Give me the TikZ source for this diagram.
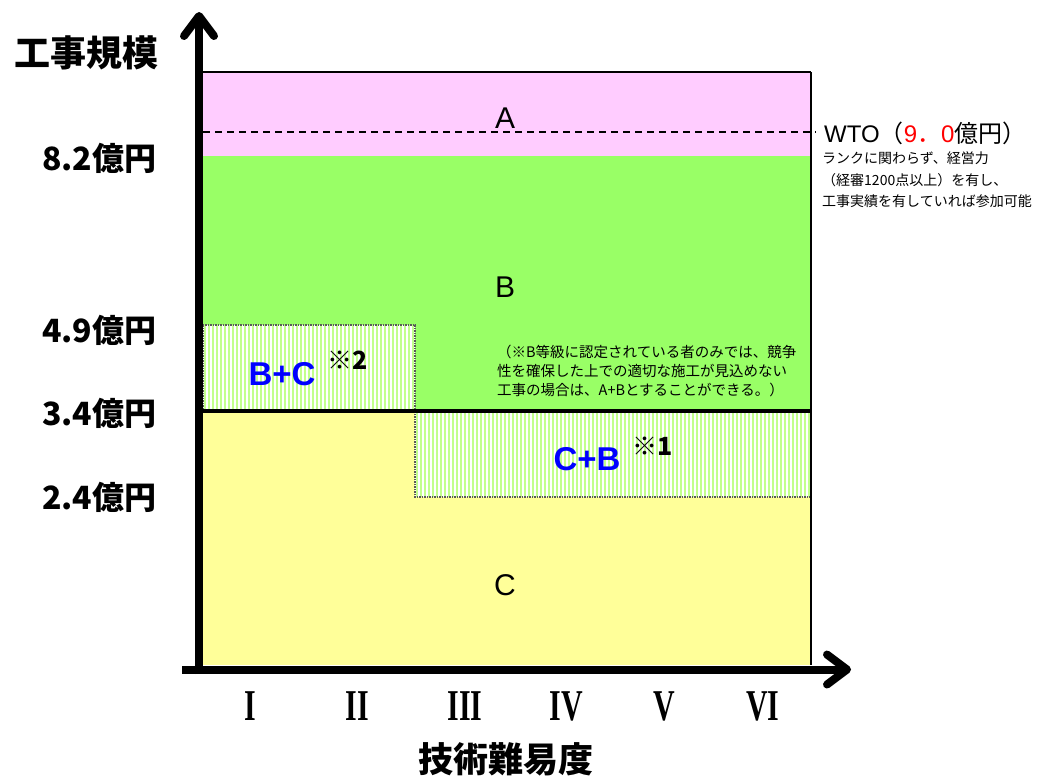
\documentclass[tikz,border=0pt]{standalone}
\usepackage{fontspec}
\setmainfont{Noto Sans CJK JP}
\newfontfamily\arialfont{Liberation Sans}
\newfontfamily\timesfont{Liberation Serif}
\usetikzlibrary{arrows.meta}
\definecolor{pinkA}{HTML}{FFCCFF}
\definecolor{greenB}{HTML}{99FF66}
\definecolor{yellowC}{HTML}{FFFF99}
\definecolor{stripe}{HTML}{C2FF8C}
\tikzset{
  axis/.style={line width=8pt, -{Straight Barb[length=20pt,width=30pt,line cap=round,line join=round]}},
  hatchedge/.style={draw=gray!70!black, densely dotted, line width=1.5pt},
  ylabel/.style={anchor=east, font=\bfseries\fontsize{32}{36}\selectfont},
  zone/.style={font=\arialfont\fontsize{30}{32}\selectfont},
  mix/.style={text=blue, font=\arialfont\bfseries\fontsize{33}{35}\selectfont},
  kome/.style={font=\bfseries\fontsize{25}{27}\selectfont},
  numeral/.style={font=\timesfont\bfseries\fontsize{44}{46}\selectfont},
  smalltext/.style={anchor=base west, inner sep=0pt, font=\fontsize{14}{16}\selectfont},
  notetext/.style={anchor=base west, inner sep=0pt, font=\fontsize{14.5}{16}\selectfont},
}
\newcommand\rankno[1]{\scalebox{0.68}[1]{#1}}
\begin{document}
\begin{tikzpicture}[x=1pt,y=-1pt]
\useasboundingbox (0,0) rectangle (1048,779);
% zones
\fill[pinkA] (203,72) rectangle (811,156);
\fill[greenB] (203,156) rectangle (811,411);
\fill[yellowC] (203,411) rectangle (811,665);
% mixed zones, striped
\fill[white] (203,325) rectangle (415,411);
\fill[white] (415,411) rectangle (811,497);
\begin{scope}
  \clip (203,325) rectangle (415,411);
  \foreach \sx in {204,208,...,416}
    \fill[stripe] (\sx,325) rectangle ++(2,86);
\end{scope}
\begin{scope}
  \clip (415,411) rectangle (811,497);
  \foreach \sx in {416,420,...,812}
    \fill[stripe] (\sx,411) rectangle ++(2,86);
\end{scope}
\draw[hatchedge] (203,325) rectangle (415,411);
\draw[hatchedge] (415,411) rectangle (811,497);
% borders
\draw[dash pattern=on 7pt off 5pt, line width=1.5pt] (203,132) -- (816,132);
\draw[line width=1.5pt] (203,72) -- (811,72);
\draw[line width=2pt] (811,72) -- (811,665);
\draw[line width=4pt] (203,411) -- (811,411);
% axes
\coordinate (ybottom) at (199,674);
\coordinate (ytip) at (199,12);
\coordinate (xstart) at (182,669.5);
\coordinate (xtip) at (851,669.5);
\draw[axis] (ybottom) -- (ytip);
\draw[axis] (xstart) -- (xtip);
% zone labels
\node[zone] (zoneA) at (505,118) {A};
\node[zone] (zoneB) at (505,287) {B};
\node[zone] (zoneC) at (505,585) {C};
\node[mix] (mixBC) at (282,374) {B+C};
\node[kome] (komeBC) at (348,360) {※2};
\node[mix] (mixCB) at (587,459) {C+B};
\node[kome] (komeCB) at (653,446) {※1};
% vertical axis
\node[font=\bfseries\fontsize{36}{38}\selectfont] (ytitle) at (86,53) {工事規模};
\node[ylabel] (y82) at (160,158) {8.2億円};
\node[ylabel] (y49) at (160,330) {4.9億円};
\node[ylabel] (y34) at (160,413) {3.4億円};
\node[ylabel] (y24) at (160,497) {2.4億円};
% horizontal axis
\node[numeral] (r1) at (250,706) {\rankno{I}};
\node[numeral] (r2) at (357,706) {\rankno{II}};
\node[numeral] (r3) at (465,706) {\rankno{III}};
\node[numeral] (r4) at (566,706) {\rankno{IV}};
\node[numeral] (r5) at (664,706) {\rankno{V}};
\node[numeral] (r6) at (763,706) {\rankno{VI}};
\node[font=\bfseries\fontsize{35}{37}\selectfont] (xtitle) at (506,759) {技術難易度};
% WTO
\node[anchor=west, inner sep=0pt, font=\fontsize{24}{26}\selectfont] (wto) at (824,133) {{\arialfont WTO}（\textcolor{red}{{\arialfont 9}．{\arialfont 0}}億円）};
\node[smalltext] (wto1) at (822,163.5) {ランクに関わらず、経営力};
\node[smalltext] (wto2) at (822,185) {（経審1200点以上）を有し、};
\node[smalltext] (wto3) at (822,206.5) {工事実績を有していれば参加可能};
% note
\node[notetext] (note1) at (497,357.5) {（※B等級に認定されている者のみでは、競争};
\node[notetext] (note2) at (497,376.5) {性を確保した上での適切な施工が見込めない};
\node[notetext] (note3) at (497,395.5) {工事の場合は、A+Bとすることができる。）};
\end{tikzpicture}
\end{document}
